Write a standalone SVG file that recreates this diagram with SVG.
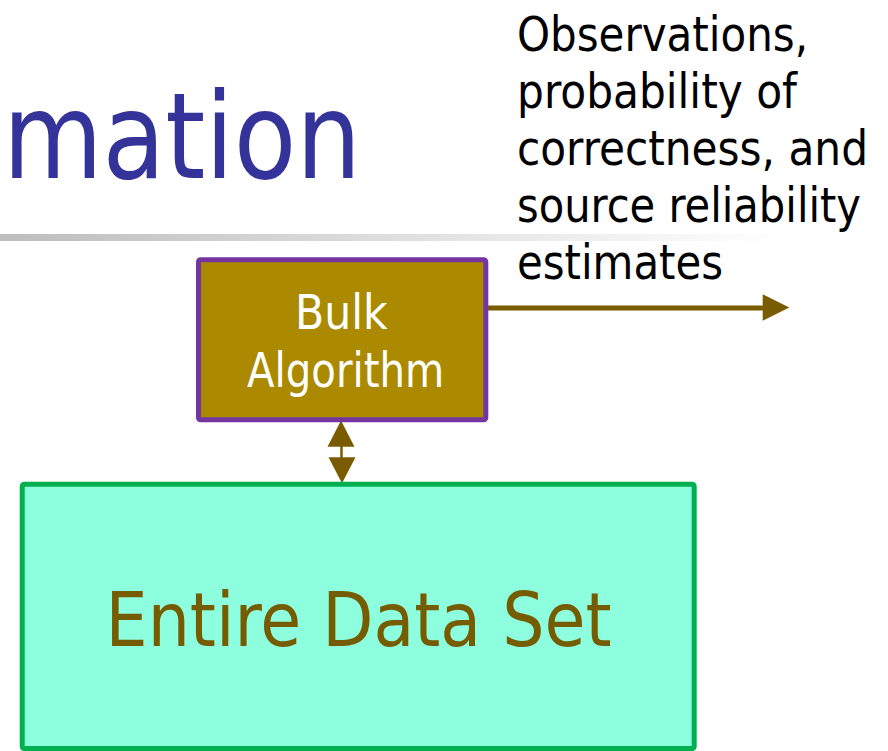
<svg xmlns="http://www.w3.org/2000/svg" width="888" height="751" viewBox="0 0 888 751">
  <defs>
    <linearGradient id="rule" x1="0" y1="0" x2="1" y2="0">
      <stop offset="0" stop-color="#bdbdbd"/>
      <stop offset="1" stop-color="#ffffff"/>
    </linearGradient>
    <style>
      .t { font-family: "DejaVu Sans Condensed", "DejaVu Sans", Tahoma, "Liberation Sans", sans-serif; font-stretch: condensed; }
      .conn { fill: #7a5c00; stroke: none; }
      .shaft { stroke: #7a5c00; fill: none; }
    </style>
  </defs>
  <rect x="0" y="0" width="888" height="751" fill="#ffffff"/>

  <!-- title fragment and rule -->
  <g id="title">
    <text class="t" x="3" y="178.3" font-size="120" fill="#333399" textLength="358" lengthAdjust="spacingAndGlyphs">mation</text>
  </g>
  <rect id="rule-line" x="0" y="234" width="780" height="7" fill="url(#rule)"/>

  <!-- output label -->
  <g id="output-label" class="t" font-size="48" fill="#000000">
    <text x="517" y="50.5" textLength="291" lengthAdjust="spacingAndGlyphs">Observations,</text>
    <text x="517" y="107.5" textLength="280" lengthAdjust="spacingAndGlyphs">probability of</text>
    <text x="517" y="164.5" textLength="351" lengthAdjust="spacingAndGlyphs">correctness, and</text>
    <text x="517" y="221.5" textLength="344" lengthAdjust="spacingAndGlyphs">source reliability</text>
    <text x="517" y="278.5" textLength="206" lengthAdjust="spacingAndGlyphs">estimates</text>
  </g>

  <!-- connectors -->
  <g id="connectors">
    <line class="shaft" x1="488" y1="308" x2="765" y2="308" stroke-width="5"/>
    <polygon class="conn" points="762.7,294.3 789.3,307.5 762.7,320.7"/>
    <line class="shaft" x1="341.5" y1="445" x2="341.5" y2="459" stroke-width="2.5"/>
    <polygon class="conn" points="341,420.5 354.5,446.7 327.5,446.7"/>
    <polygon class="conn" points="328.5,457.3 355.5,457.3 342,483.3"/>
  </g>

  <!-- Bulk Algorithm node -->
  <g id="bulk-algorithm">
    <rect x="198.5" y="259.8" width="287.3" height="160" rx="2" fill="#ab8a00" stroke="#7535a0" stroke-width="5"/>
    <text class="t" x="341.4" y="329.3" font-size="48" fill="#ffffff" text-anchor="middle" textLength="92.6" lengthAdjust="spacingAndGlyphs">Bulk</text>
    <text class="t" x="345.6" y="386.7" font-size="48" fill="#ffffff" text-anchor="middle" textLength="197" lengthAdjust="spacingAndGlyphs">Algorithm</text>
  </g>

  <!-- Entire Data Set node -->
  <g id="entire-data-set">
    <rect x="22.2" y="484.2" width="672" height="264.3" rx="2" fill="#8dffdf" stroke="#00b050" stroke-width="5"/>
    <text class="t" x="358.6" y="645.7" font-size="74" fill="#765c00" text-anchor="middle" textLength="506" lengthAdjust="spacingAndGlyphs">Entire Data Set</text>
  </g>
</svg>
